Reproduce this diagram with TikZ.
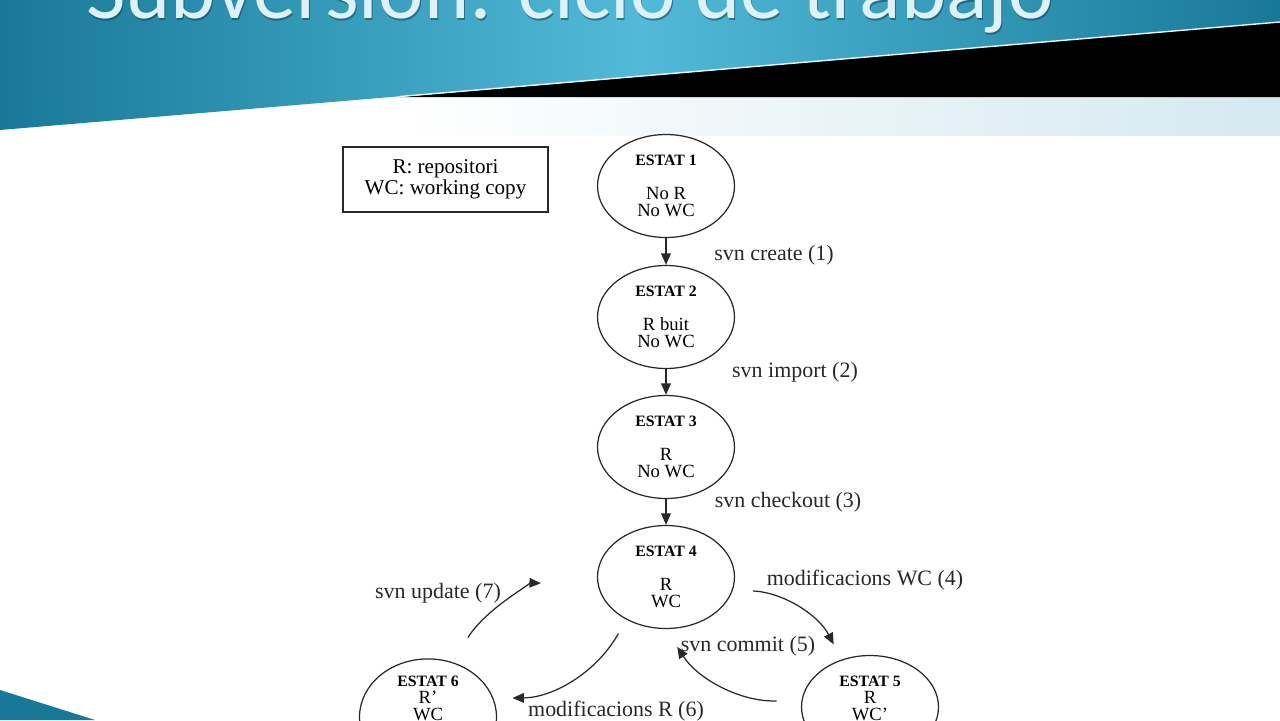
\documentclass[tikz,border=0pt]{standalone}
\usepackage{fontspec}
\setmainfont{Liberation Serif}
\newfontfamily\slidefont{Carlito}
\usetikzlibrary{
    positioning,
    arrows.meta,
    shapes.geometric
}
\definecolor{BannerBlue}{RGB}{24,120,152}
\definecolor{BannerLight}{RGB}{82,186,216}
\definecolor{PaleBlue}{RGB}{212,233,240}
\definecolor{TitleBlue}{RGB}{222,241,247}
\definecolor{InkGray}{RGB}{40,40,40}
\newcommand{\etitle}[1]{{\fontsize{9}{9.6}\selectfont\bfseries ESTAT #1}}

\begin{document}
\begin{tikzpicture}[
    x=0.02cm, y=-0.02cm,
    estat/.style={ellipse, draw=InkGray, line width=0.7pt, minimum width=2.74cm, minimum height=2.06cm, inner sep=0pt, align=center, font=\fontsize{10.6}{9.6}\selectfont},
    legend/.style={rectangle, draw=InkGray, line width=0.6pt, minimum width=4.1cm, minimum height=1.3cm, align=center, font=\fontsize{12}{11.9}\selectfont},
    lbl/.style={font=\fontsize{12.5}{14}\selectfont, text=InkGray, inner sep=0pt},
    arr/.style={draw=InkGray, line width=0.7pt, -{Triangle[length=6.5pt,width=5.5pt]}},
]
\useasboundingbox (0,0) rectangle (1280,720);
\fill[white] (0,0) rectangle (1280,720);

% bandeau du haut
\shade[left color=white, right color=PaleBlue] (400,97) rectangle (1280,135);
\fill[black] (400,97) -- (1280,22) -- (1280,97) -- cycle;
\shade[left color=BannerBlue, right color=BannerBlue, middle color=BannerLight] (0,0) -- (1280,0) -- (1280,22) -- (0,130) -- cycle;
\draw[white!85!BannerLight, line width=0.8pt] (400,96.5) -- (1280,22);
\fill[BannerBlue] (0,690) -- (95,720) -- (0,720) -- cycle;
\node[font=\slidefont\fontsize{49}{54}\selectfont, text=BannerBlue!50!black, opacity=0.5, anchor=base west] (shadow) at (81,20) {Subversion: ciclo de trabajo};
\node[font=\slidefont\fontsize{49}{54}\selectfont, text=TitleBlue, anchor=base west] (title) at (80,18) {Subversion: ciclo de trabajo};

% légende
\node[legend] (key) at (445.5,179.5) {R: repositori\\WC: working copy};

% états
\node[estat] (e1) at (666,186) {\etitle{1}\\[9.7pt] No R\\No WC};
\node[estat] (e2) at (666,317) {\etitle{2}\\[9.7pt] R buit\\No WC};
\node[estat] (e3) at (666,447) {\etitle{3}\\[9.7pt] R\\No WC};
\node[estat] (e4) at (666,577) {\etitle{4}\\[9.7pt] R\\WC};
\node[estat] (e5) at (870,707) {\etitle{5}\\R\\WC'\\\mbox{}};
\node[estat] (e6) at (428,717) {\etitle{6}\\R'\\WC\\[12pt]\mbox{}};

\draw[arr] (e1) -- (e2);
\draw[arr] (e2) -- (e3);
\draw[arr] (e3) -- (e4);

% cycle de travail
\draw[arr, shorten <=0.40cm, shorten >=0.34cm] (e4.-11) to[bend left=30] (e5.121);
\draw[arr, shorten <=0.50cm, shorten >=0.42cm] (e5.174) to[bend left=30] (e4.-90);
\draw[arr, shorten <=0.32cm, shorten >=0.38cm] (e4.-133) to[bend left=30] (e6.16);
\draw[arr, shorten <=0.58cm, shorten >=1.14cm] (e6.66) to[bend left=30] (e4.-173);

\node[lbl] (l1) at (774,255) {svn create (1)};
\node[lbl] (l2) at (795,372) {svn import (2)};
\node[lbl] (l3) at (788,502) {svn checkout (3)};
\node[lbl] (l4) at (865,580) {modificacions WC (4)};
\node[lbl] (l5) at (748,646) {svn commit (5)};
\node[lbl] (l6) at (616,711) {modificacions R (6)};
\node[lbl] (l7) at (438,593) {svn update (7)};
\end{tikzpicture}
\end{document}
